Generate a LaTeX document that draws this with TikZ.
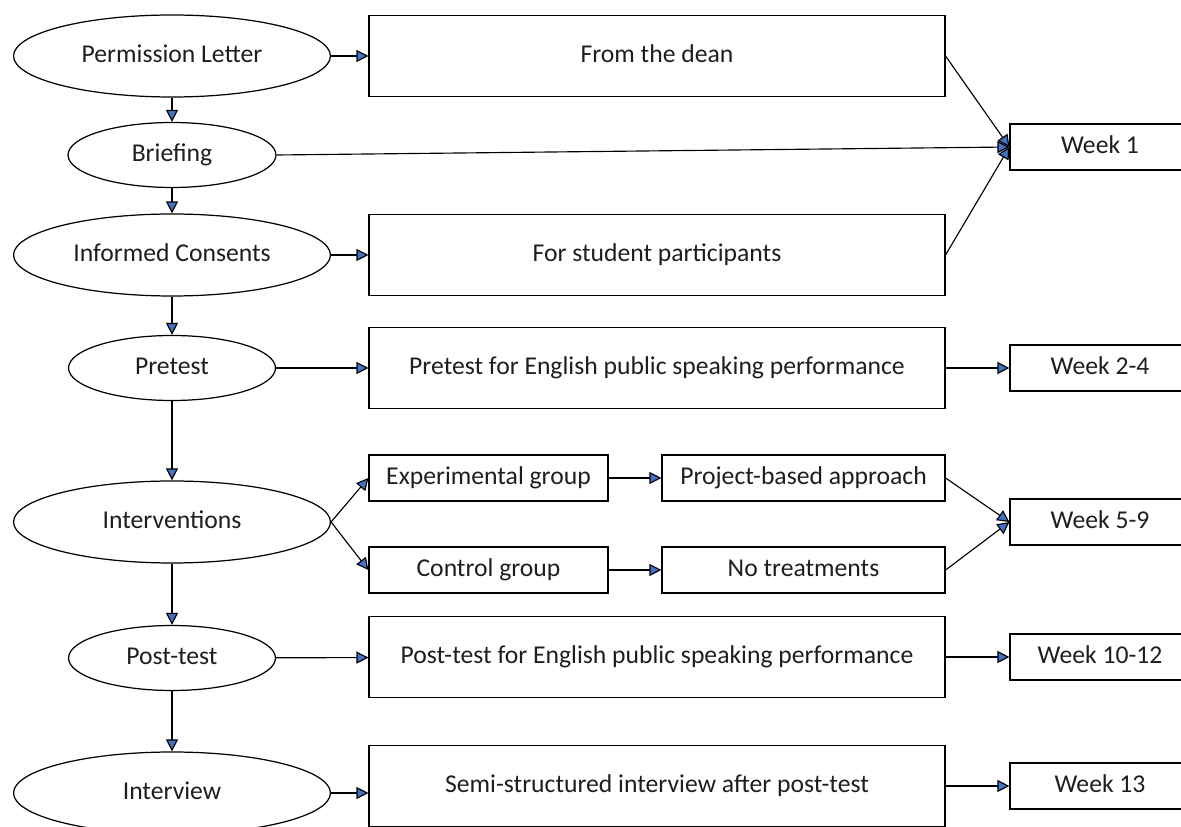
\documentclass[tikz,border=0pt]{standalone}
\usepackage{fontspec}
\setmainfont{Carlito}
\usepackage{tikz}
\usetikzlibrary{
  arrows.meta,
  positioning,
  shapes.geometric
}
\definecolor{tipblue}{RGB}{68,114,196}
\definecolor{inkgray}{RGB}{30,30,30}

\begin{document}
\begin{tikzpicture}[
  x=0.02cm, y=-0.02cm,
  font=\fontsize{14.6}{17}\selectfont, text=inkgray,
  oval/.style={draw, ellipse, inner sep=0pt, line width=0.7pt, text height=10pt, text depth=3pt, minimum width=6.34cm, minimum height=1.64cm},
  small/.style={minimum width=4.14cm, minimum height=1.3cm},
  box/.style={draw, inner sep=0pt, line width=0.7pt, text height=10pt, text depth=3pt, minimum width=11.52cm, minimum height=1.63cm},
  group/.style={draw, inner sep=0pt, line width=0.7pt, text height=10pt, text depth=3pt, minimum width=4.78cm, minimum height=0.92cm},
  weekbox/.style={draw, inner sep=0pt, line width=0.7pt, text height=10pt, text depth=3pt, minimum width=3.6cm, minimum height=0.92cm},
  arrow/.style={-{Triangle[length=0.24cm, width=0.24cm, fill=tipblue]}, line width=0.65pt}
]
\useasboundingbox (0,0) rectangle (1181,827);

% left column
\node[oval] (perm) at (172,56) {Permission Letter};
\node[oval, small, minimum width=4.16cm] (brief) at (172,155) {Briefing};
\node[oval] (consent) at (172,255) {Informed Consents};
\node[oval, small] (pre) at (172,368) {Pretest};
\node[oval] (interv) at (172,522) {Interventions};
\node[oval, small] (post) at (172,658) {Post-test};
\node[oval] (intvw) at (172,793) {Interview};

% middle column
\node[box] (dean) at (657,56) {From the dean};
\node[box] (student) at (657,255) {For student participants};
\node[box] (pretest) at (657,368) {Pretest for English public speaking performance};
\node[group] (exp) at (488.5,478) {Experimental group};
\node[group] (ctrl) at (488.5,570) {Control group};
\node[group, minimum width=5.66cm] (proj) at (803.5,478) {Project-based approach};
\node[group, minimum width=5.66cm] (notreat) at (803.5,570) {No treatments};
\node[box] (posttest) at (657,657) {Post-test for English public speaking performance};
\node[box] (semi) at (657,786) {Semi-structured interview after post-test};

% weeks
\node[weekbox] (w1) at (1100,147) {Week 1};
\node[weekbox] (w2) at (1100,368) {Week 2-4};
\node[weekbox] (w5) at (1100,522) {Week 5-9};
\node[weekbox] (w10) at (1100,657) {Week 10-12};
\node[weekbox] (w13) at (1100,786) {Week 13};

% flow down the left
\draw[arrow] (perm) -- (brief);
\draw[arrow] (brief) -- (consent);
\draw[arrow] (consent) -- (pre);
\draw[arrow] (pre) -- (interv);
\draw[arrow] (interv) -- (post);
\draw[arrow] (post) -- (intvw);

% to the activities
\draw[arrow] (perm) -- (dean);
\draw[arrow] (consent) -- (student);
\draw[arrow] (pre) -- (pretest);
\draw[arrow] (interv.east) -- (exp.west);
\draw[arrow] (interv.east) -- (ctrl.west);
\draw[arrow] (exp) -- (proj);
\draw[arrow] (ctrl) -- (notreat);
\draw[arrow] (post) -- (posttest);
\draw[arrow] (intvw.east) -- (intvw.east -| semi.west);

% to the weeks
\draw[arrow] (dean.east) -- (w1.west);
\draw[arrow] (brief.east) -- (w1.west);
\draw[arrow] (student.east) -- (w1.west);
\draw[arrow] (pretest) -- (w2);
\draw[arrow] (proj.east) -- (w5.west);
\draw[arrow] (notreat.east) -- (w5.west);
\draw[arrow] (posttest) -- (w10);
\draw[arrow] (semi) -- (w13);
\end{tikzpicture}
\end{document}
